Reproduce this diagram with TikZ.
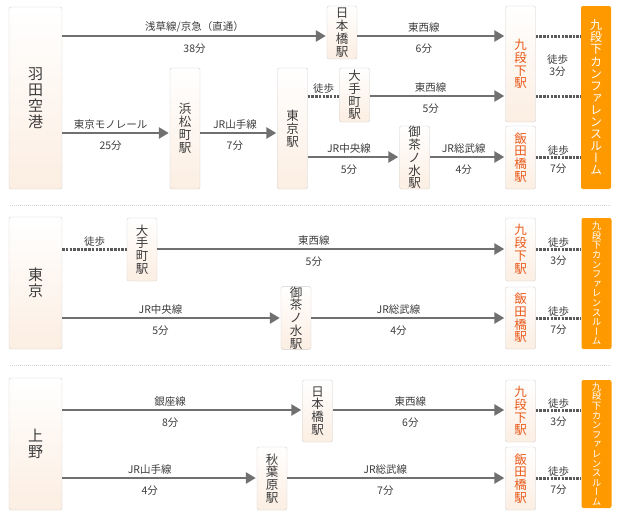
\documentclass[tikz,border=0pt]{standalone}
\usepackage{fontspec}
\setmainfont{Noto Sans CJK JP}
\newfontfamily\tatefont[RawFeature=+vert]{Noto Sans CJK JP}
\usetikzlibrary{arrows.meta}

\definecolor{boxline}{HTML}{CFCFCF}
\definecolor{boxpeach}{HTML}{FCEEE2}
\definecolor{txtgray}{HTML}{3C3C3C}
\definecolor{linegray}{HTML}{707070}
\definecolor{walkgray}{HTML}{5A5A5A}
\definecolor{stnorange}{HTML}{E85A1A}
\definecolor{roomorange}{HTML}{FF9900}
\definecolor{sepgray}{HTML}{D5D5D5}

\tikzset{
  origin/.style={draw=boxline, rounded corners=2pt, top color=white, bottom color=boxpeach,
    text=txtgray, inner sep=0pt, minimum width=53pt, align=center, font=\fontsize{15}{16}\selectfont},
  stn/.style={origin, minimum width=30pt, font=\fontsize{12.5}{12.8}\selectfont},
  goal/.style={stn, text=stnorange},
  room/.style={fill=roomorange, rounded corners=2pt, text=white, inner sep=0pt,
    minimum width=30pt, align=center},
  route/.style={draw=linegray, line width=2.5pt, -{Triangle[length=10pt,width=11pt]}, shorten >=1pt},
  walk/.style={draw=walkgray, line width=3pt, dash pattern=on 2.5pt off 1.2pt},
  lbl/.style={text=txtgray, font=\fontsize{10.5}{12}\selectfont, inner sep=1pt},
  linename/.style={lbl, pos=.45, above=1pt},
  mins/.style={lbl, pos=.45, below=5.5pt},
  walkup/.style={lbl, above=-0.5pt},
  walkdn/.style={lbl, below=4pt},
  sep/.style={draw=sepgray, line width=1pt, dash pattern=on 1pt off 1pt}
}

\begin{document}
\begin{tikzpicture}[x=1pt, y=-1pt]
\useasboundingbox (0,0) rectangle (620,515);

\coordinate (rA) at (0,36);
\coordinate (rB) at (0,96);
\coordinate (rC) at (0,133);
\coordinate (rD) at (0,157);
\coordinate (rE) at (0,249);
\coordinate (rF) at (0,318);
\coordinate (rG) at (0,410);
\coordinate (rH) at (0,478);

% haneda
\node[origin, minimum height=182pt] (haneda) at (35.5,98) {羽\\田\\空\\港};
\node[stn, minimum height=53pt] (nihon1) at (342,32.5) {日\\本\\橋\\駅};
\node[stn, minimum height=121pt] (hama) at (185,128.5) {浜\\松\\町\\駅};
\node[stn, minimum height=121pt] (tokyoSt) at (292.5,128.5) {東\\京\\駅};
\node[stn, minimum height=54pt] (otemachi1) at (354.5,95) {大\\手\\町\\駅};
\node[stn, minimum height=63pt] (ocha1) at (414.5,157.5) {御\\茶\\ノ\\水\\駅};
\node[goal, minimum height=116pt] (kudan1) at (520.5,64) {九\\段\\下\\駅};
\node[goal, minimum height=63pt] (iida1) at (520.5,157.5) {飯\\田\\橋\\駅};
\node[room, minimum height=183pt, font=\tatefont\fontsize{12}{12.1}\selectfont] (room1) at (596,97.5)
  {九\\段\\下\\カ\\ン\\フ\\ァ\\レ\\ン\\ス\\ル\\ー\\ム};

\draw[route] (haneda.east |- rA) -- node[linename, pos=.5] {浅草線/京急（直通）} node[mins, pos=.5] {38分} (nihon1.west |- rA);
\draw[route] (nihon1.east |- rA) -- node[linename] {東西線} node[mins] {6分} (kudan1.west |- rA);
\draw[route] (haneda.east |- rC) -- node[linename] {東京モノレール} node[mins] {25分} (hama.west |- rC);
\draw[route] (hama.east |- rC) -- node[linename] {JR山手線} node[mins] {7分} (tokyoSt.west |- rC);
\draw[walk] (tokyoSt.east |- rB) -- node[walkup, above=1pt] {徒歩} (otemachi1.west |- rB);
\draw[route] (otemachi1.east |- rB) -- node[linename] {東西線} node[mins] {5分} (kudan1.west |- rB);
\draw[route] (tokyoSt.east |- rD) -- node[linename] {JR中央線} node[mins] {5分} (ocha1.west |- rD);
\draw[route] (ocha1.east |- rD) -- node[linename] {JR総武線} node[mins] {4分} (iida1.west |- rD);
\draw[walk] (kudan1.east |- rA) -- (room1.west |- rA);
\draw[walk] (kudan1.east |- rB) -- (room1.west |- rB);
\node[lbl, align=center, font=\fontsize{10.5}{12}\selectfont] (walk1) at (557.5,66) {徒歩\\3分};
\draw[walk] (iida1.east |- rD) -- node[walkup] {徒歩} node[walkdn] {7分} (room1.west |- rD);

\draw[sep] (10,205) -- (612,205);

% tokyo
\node[origin, minimum height=132pt] (tokyo) at (35.5,283) {東\\京};
\node[stn, minimum height=63pt] (otemachi2) at (142,249.5) {大\\手\\町\\駅};
\node[stn, minimum height=62pt] (ocha2) at (296,318) {御\\茶\\ノ\\水\\駅};
\node[goal, minimum height=63pt] (kudan2) at (520.5,249.5) {九\\段\\下\\駅};
\node[goal, minimum height=62pt] (iida2) at (520.5,318) {飯\\田\\橋\\駅};
\node[room, minimum height=131pt, font=\tatefont\fontsize{9.5}{9.6}\selectfont] (room2) at (596.5,283.5)
  {九\\段\\下\\カ\\ン\\フ\\ァ\\レ\\ン\\ス\\ル\\ー\\ム};

\draw[walk] (tokyo.east |- rE) -- node[walkup, above=1pt] {徒歩} (otemachi2.west |- rE);
\draw[route] (otemachi2.east |- rE) -- node[linename] {東西線} node[mins] {5分} (kudan2.west |- rE);
\draw[route] (tokyo.east |- rF) -- node[linename] {JR中央線} node[mins] {5分} (ocha2.west |- rF);
\draw[route] (ocha2.east |- rF) -- node[linename] {JR総武線} node[mins] {4分} (iida2.west |- rF);
\draw[walk] (kudan2.east |- rE) -- node[walkup] {徒歩} node[walkdn] {3分} (room2.west |- rE);
\draw[walk] (iida2.east |- rF) -- node[walkup] {徒歩} node[walkdn] {7分} (room2.west |- rF);

\draw[sep] (10,365) -- (612,365);

% ueno
\node[origin, minimum height=132pt] (ueno) at (35.5,444) {上\\野};
\node[stn, minimum height=62pt] (nihon3) at (317.5,411) {日\\本\\橋\\駅};
\node[stn, minimum height=63pt] (akiba) at (272,478.5) {秋\\葉\\原\\駅};
\node[goal, minimum height=62pt] (kudan3) at (520.5,411) {九\\段\\下\\駅};
\node[goal, minimum height=63pt] (iida3) at (520.5,478.5) {飯\\田\\橋\\駅};
\node[room, minimum height=128pt, font=\tatefont\fontsize{9.5}{9.6}\selectfont] (room3) at (596.5,444)
  {九\\段\\下\\カ\\ン\\フ\\ァ\\レ\\ン\\ス\\ル\\ー\\ム};

\draw[route] (ueno.east |- rG) -- node[linename] {銀座線} node[mins] {8分} (nihon3.west |- rG);
\draw[route] (nihon3.east |- rG) -- node[linename] {東西線} node[mins] {6分} (kudan3.west |- rG);
\draw[route] (ueno.east |- rH) -- node[linename] {JR山手線} node[mins] {4分} (akiba.west |- rH);
\draw[route] (akiba.east |- rH) -- node[linename] {JR総武線} node[mins] {7分} (iida3.west |- rH);
\draw[walk] (kudan3.east |- rG) -- node[walkup] {徒歩} node[walkdn] {3分} (room3.west |- rG);
\draw[walk] (iida3.east |- rH) -- node[walkup] {徒歩} node[walkdn] {7分} (room3.west |- rH);
\end{tikzpicture}
\end{document}
